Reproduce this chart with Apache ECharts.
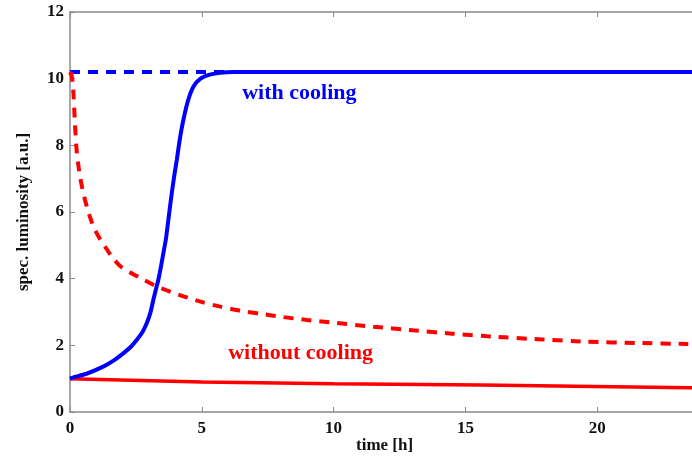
<!DOCTYPE html>
<html>
<head>
<meta charset="utf-8">
<script src="https://cdn.jsdelivr.net/npm/echarts@6/dist/echarts.min.js"></script>
<style>html,body{margin:0;padding:0;background:#fff}#c{width:692px;height:458px}</style>
</head>
<body>
<div id="c"></div>
<script>
// x-axis ticks (time [h]) and y-axis ticks
const xTicks = [0, 5, 10, 15, 20, 25];
const yTicks = [0, 2, 4, 6, 8, 10, 12];

// with cooling (solid blue): [time, luminosity]
const withCooling = [[0,1.0],[0.13,1.04],[0.6,1.14],[1.26,1.36],[1.65,1.54],[2.02,1.76],[2.3,1.95],[2.53,2.16],[2.75,2.4],[2.91,2.66],[3.05,2.98],[3.16,3.36],[3.25,3.65],[3.35,3.96],[3.45,4.36],[3.54,4.76],[3.64,5.2],[3.76,5.95],[3.86,6.56],[3.95,7.06],[4.05,7.56],[4.17,8.2],[4.3,8.76],[4.48,9.35],[4.68,9.76],[4.95,10.0],[5.3,10.12],[5.7,10.18],[6.2,10.2],[25,10.2]];
// target level (dashed blue)
const withCoolingRef = [[0,10.2],[6,10.2]];
// without cooling, dashed red
const withoutCoolingDashed = [[0,10.2],[0.06,10.1],[0.1,9.9],[0.13,9.56],[0.16,9.1],[0.19,8.6],[0.25,7.86],[0.31,7.45],[0.38,7.06],[0.47,6.7],[0.57,6.36],[0.72,5.94],[0.89,5.56],[1.1,5.24],[1.33,4.96],[1.6,4.64],[1.9,4.38],[2.3,4.18],[2.77,3.98],[3.2,3.8],[3.67,3.65],[4.3,3.47],[5.05,3.29],[5.7,3.16],[6.45,3.04],[7.2,2.95],[7.97,2.86],[9,2.76],[10.1,2.67],[11.5,2.56],[13,2.45],[14.5,2.35],[16.05,2.26],[17.8,2.18],[19.6,2.11],[21.5,2.07],[23.4,2.04],[25,2.0]];
// without cooling, solid red
const withoutCooling = [[0,1.0],[5,0.9],[10,0.85],[15.6,0.81],[23.5,0.73],[25,0.72]];

// annotation labels: [time, luminosity, text]
const labelWith = [8.7, 9.57, 'with cooling'];
const labelWithout = [8.75, 1.77, 'without cooling'];

const serif = '"Liberation Serif", "DejaVu Serif", serif';
const axisColor = '#8a8a8a';

const chart = echarts.init(document.getElementById('c'));
function annot(lbl, color) {
  return { type: 'scatter', data: [lbl], symbolSize: 2, silent: true, z: 10,
    itemStyle: { color: 'rgba(0,0,0,0)', opacity: 1 },
    label: { show: true, position: 'inside', formatter: p => p.value[2], color: color, opacity: 1,
      fontFamily: serif, fontWeight: 'bold', fontSize: 22 } };
}
chart.setOption({
  animation: false,
  backgroundColor: '#fff',
  grid: { left: 70, top: 12, bottom: 46, right: -37, outerBoundsMode: 'none', containLabel: false },
  xAxis: [{
    type: 'value', min: 0, max: 25, interval: 5,
    axisLine: { show: true, lineStyle: { color: axisColor, width: 1.5 } },
    axisTick: { show: true, inside: true, length: 5, lineStyle: { color: axisColor } },
    splitLine: { show: false },
    axisLabel: { color: '#111', fontFamily: serif, fontWeight: 'bold', fontSize: 17, margin: 8,
      customValues: xTicks },
  }, {
    type: 'value', min: 0, max: 25, interval: 5, position: 'top',
    axisLine: { show: true, onZero: false, lineStyle: { color: axisColor, width: 1.5 } },
    axisTick: { show: true, inside: true, length: 5, lineStyle: { color: axisColor } },
    axisLabel: { show: false }, splitLine: { show: false }
  }],
  yAxis: {
    type: 'value', min: 0, max: 12, interval: 2,
    name: 'spec. luminosity [a.u.]', nameLocation: 'middle', nameGap: 38,
    nameTextStyle: { color: '#111', fontFamily: serif, fontWeight: 'bold', fontSize: 17 },
    axisLine: { show: true, lineStyle: { color: axisColor, width: 1.5 } },
    axisTick: { show: true, inside: true, length: 5, lineStyle: { color: axisColor } },
    splitLine: { show: false },
    axisLabel: { color: '#111', fontFamily: serif, fontWeight: 'bold', fontSize: 17, margin: 6 }
  },
  graphic: [{
    type: 'text', left: 356, top: 437,
    style: { text: 'time [h]', fill: '#111', font: 'bold 17px ' + serif }
  }],
  series: [
    { type: 'line', data: withCoolingRef, showSymbol: false, z: 2,
      lineStyle: { color: '#0000ff', width: 4, type: [10, 8] } },
    { type: 'line', data: withoutCoolingDashed, showSymbol: false, smooth: 0.2, z: 2,
      lineStyle: { color: '#ff0000', width: 4, type: [10, 8] } },
    { type: 'line', data: withoutCooling, showSymbol: false, z: 3,
      lineStyle: { color: '#ff0000', width: 3.5 } },
    { type: 'line', data: withCooling, showSymbol: false, smooth: 0.2, z: 4,
      lineStyle: { color: '#0000ff', width: 4 } },
    annot(labelWith, '#0000ff'),
    annot(labelWithout, '#ff0000')
  ]
});
</script>
</body>
</html>
